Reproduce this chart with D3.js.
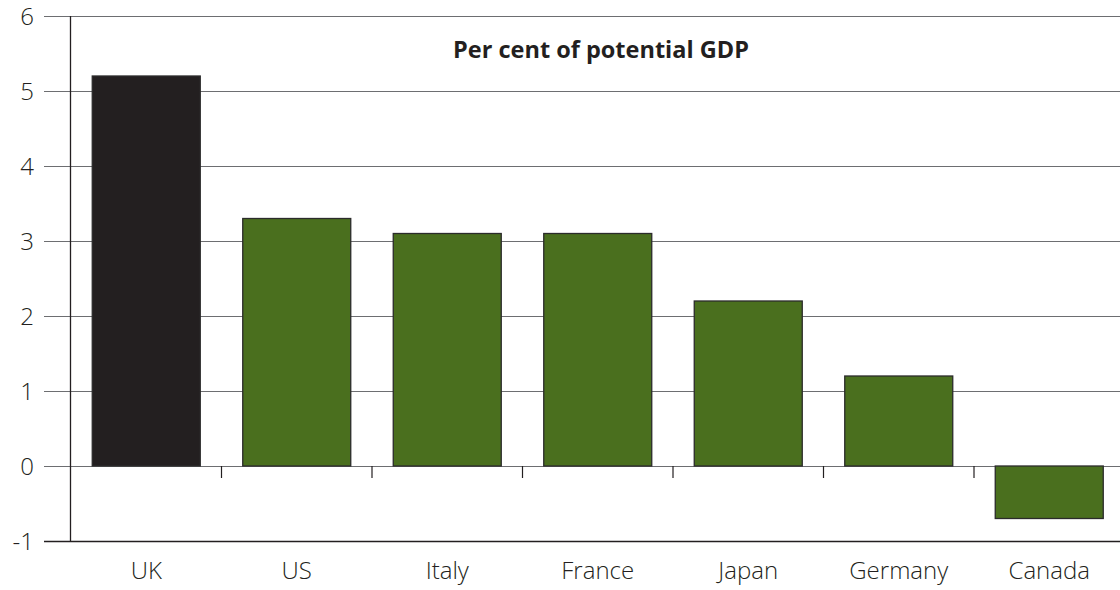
<!DOCTYPE html>
<html><head><meta charset="utf-8">
<script src="https://cdn.jsdelivr.net/npm/d3@7"></script>
<style>body{margin:0;background:#fff}svg{display:block}</style>
</head><body>
<svg id="c" width="1120" height="590"></svg>
<script>
const categories = ["UK","US","Italy","France","Japan","Germany","Canada"];
const values = [5.2, 3.3, 3.1, 3.1, 2.2, 1.2, -0.7];
const yTicks = [-1,0,1,2,3,4,5,6];
const title = "Per cent of potential GDP";
const highlight = "UK";

const svg = d3.select("#c");
const mLeft = 71, mRight = 1120, mTop = 16, mBottom = 541;
const step = 150.5;
const x = d3.scaleBand().domain(categories).range([mLeft, mLeft + step*categories.length])
  .paddingInner(0.2824).paddingOuter(0.1412);
const y = d3.scaleLinear().domain([-1,6]).range([mBottom, mTop]);
const font = "'Open Sans', 'DejaVu Sans', sans-serif";

// gridlines with outward ticks
svg.append("g").selectAll("line").data(yTicks.filter(d=>d!==-1)).join("line")
  .attr("x1",44).attr("x2",mRight).attr("y1",d=>Math.round(y(d))+0.5).attr("y2",d=>Math.round(y(d))+0.5)
  .attr("stroke","#6d6e71").attr("stroke-width",1.2);

// bars
svg.append("g").selectAll("rect").data(categories).join("rect")
  .attr("x",d=>x(d)).attr("width",x.bandwidth())
  .attr("y",(d,i)=>y(Math.max(0,values[i])))
  .attr("height",(d,i)=>Math.abs(y(values[i])-y(0)))
  .attr("fill",d=>d===highlight?"#231f20":"#4a6f1e")
  .attr("stroke","#2b2b2b").attr("stroke-width",1.3);

// bottom line at -1
svg.append("line").attr("x1",44).attr("x2",mRight).attr("y1",y(-1)+0.5).attr("y2",y(-1)+0.5)
  .attr("stroke","#231f20").attr("stroke-width",1.3);
// left axis
svg.append("line").attr("x1",mLeft-0.5).attr("x2",mLeft-0.5).attr("y1",y(6)).attr("y2",y(-1))
  .attr("stroke","#231f20").attr("stroke-width",1.3);

// category boundary ticks on zero line
const bounds = categories.slice(1).map(c=>x(c) - x.step()*x.paddingInner()/2);
svg.append("g").selectAll("line").data(bounds).join("line")
  .attr("x1",d=>d).attr("x2",d=>d).attr("y1",y(0)).attr("y2",y(0)+12)
  .attr("stroke","#231f20").attr("stroke-width",1.2);

// y tick labels
svg.append("g").selectAll("text").data(yTicks).join("text")
  .attr("x",34).attr("y",d=>y(d)).attr("dy","0.36em").attr("text-anchor","end")
  .attr("font-family",font).attr("font-size",24).attr("font-weight",300).attr("fill","#231f20")
  .text(d=>d);

// category labels
svg.append("g").selectAll("text").data(categories).join("text")
  .attr("x",d=>x(d)+x.bandwidth()/2).attr("y",579).attr("text-anchor","middle")
  .attr("font-family",font).attr("font-size",24).attr("font-weight",300).attr("fill","#231f20")
  .text(d=>d);

// title
svg.append("text").attr("x",601).attr("y",58).attr("text-anchor","middle")
  .attr("font-family",font).attr("font-size",23.5).attr("font-weight","bold").attr("fill","#231f20")
  .text(title);
</script>
</body></html>
